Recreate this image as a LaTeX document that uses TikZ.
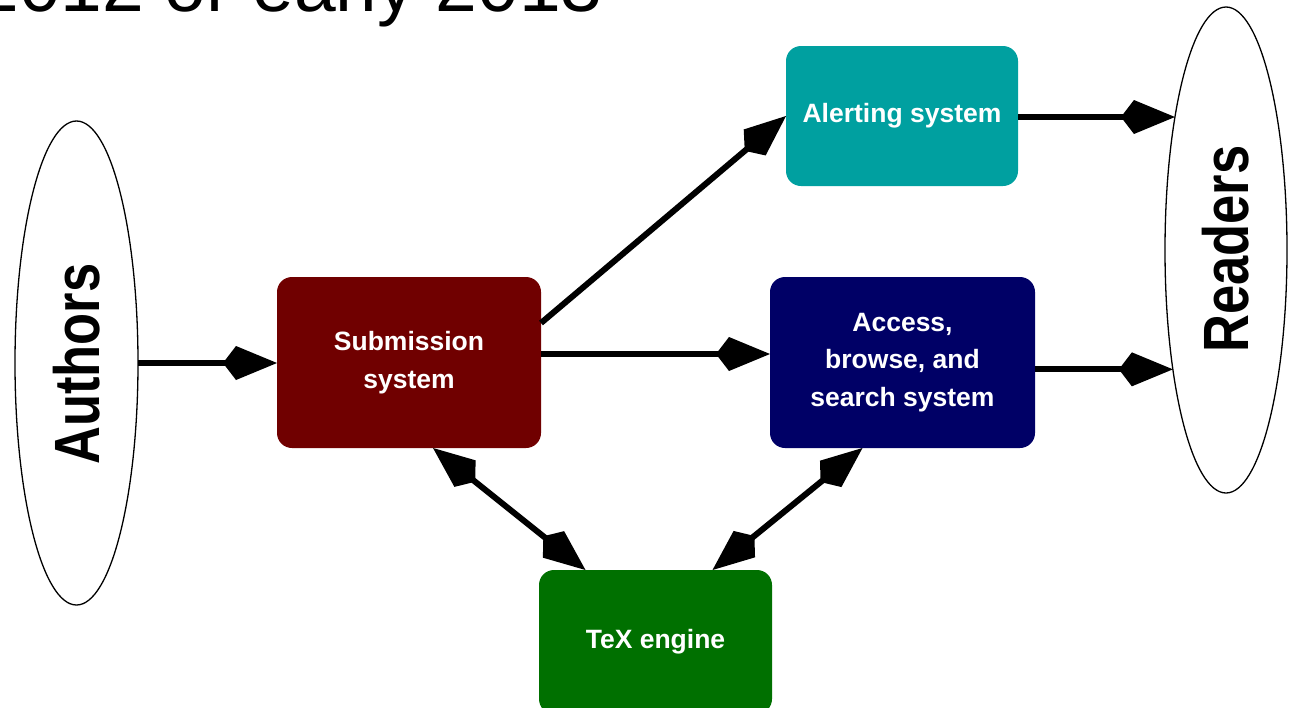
\documentclass[tikz,border=0pt]{standalone}
\usepackage{fontspec}
\setmainfont{Liberation Sans}
\usetikzlibrary{arrows.meta,shapes.geometric}
\definecolor{subred}{RGB}{112,0,0}
\definecolor{alertteal}{RGB}{0,160,160}
\definecolor{accessnavy}{RGB}{0,0,102}
\definecolor{texgreen}{RGB}{0,112,0}
\begin{document}
\begin{tikzpicture}[x=1pt,y=-1pt,
  sysbox/.style={rectangle, fill=#1, rounded corners=15pt, inner sep=0pt, outer sep=0pt,
    text=white, align=center, font=\fontsize{26.5}{37.5}\selectfont\bfseries},
  actor/.style={ellipse, draw, line width=1.3pt, inner sep=0pt, outer sep=0pt,
    minimum width=123pt, minimum height=484pt},
  actorlabel/.style={rotate=90, inner sep=0pt, font=\fontsize{64}{70}\selectfont\bfseries},
  kitetip/.tip={Kite[length=54pt,width=34pt,inset=13pt]},
  flow/.style={line width=6pt, -kitetip},
  flowboth/.style={line width=6pt, kitetip-kitetip},
]
\useasboundingbox (0,0) rectangle (1293,707);

\node[anchor=base east, inner sep=0pt, font=\fontsize{75}{80}\selectfont] (title) at (603,11) {2012 or early 2013};

\node[actor] (authors) at (76.5,363) {};
\node[actorlabel] (authorslabel) at (77,364) {\scalebox{0.82}[1]{Authors}};
\node[actor, minimum width=122pt, minimum height=486pt] (readers) at (1226,250) {};
\node[actorlabel] (readerslabel) at (1226,249) {\scalebox{0.82}[1]{Readers}};

\node[sysbox=subred, minimum width=264pt, minimum height=171pt] (sub) at (409,362.5) {Submission\\system};
\node[sysbox=accessnavy, minimum width=265pt, minimum height=171pt] (access) at (902.5,362.5) {Access,\\browse, and\\search system};
\node[sysbox=alertteal, minimum width=232pt, minimum height=140pt] (alert) at (902,116) {Alerting system};
\node[sysbox=texgreen, minimum width=233pt, minimum height=144pt] (tex) at (655.5,642) {TeX engine};

\draw[flow] (authors.east) -- (authors.east -| sub.west);
\draw[flow] ([yshift=8.5pt]sub.east) -- ([yshift=8.5pt]access.west);
\draw[flow] ([yshift=39.5pt]sub.east) -- (alert.west);
\draw[flow] (alert.east |- readers.111.5) -- (readers.111.5);
\draw[flow] (access.east |- readers.246) -- (readers.246);
\draw[flowboth] ([xshift=24pt]sub.south) -- ([xshift=-70pt]tex.north);
\draw[flowboth] ([xshift=-40pt]access.south) -- ([xshift=57pt]tex.north);
\end{tikzpicture}
\end{document}
